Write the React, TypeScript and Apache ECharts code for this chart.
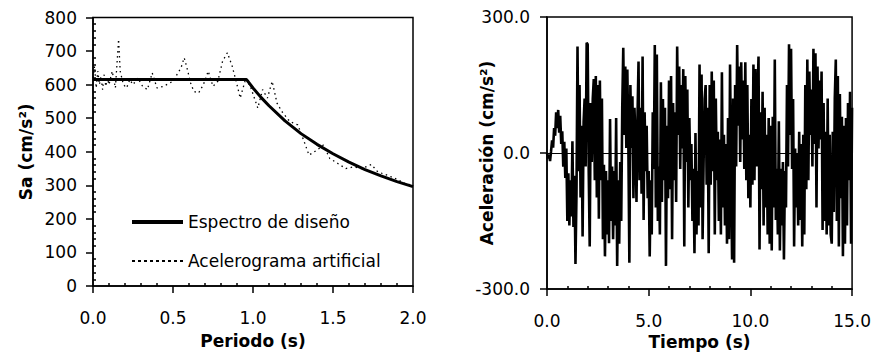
import React, { useEffect, useRef } from "react";
import * as echarts from "echarts";

const FONT = "DejaVu Sans";

// Design spectrum (solid)
const designPeriods = [0, 0.96, 1.0, 1.05, 1.1, 1.2, 1.3, 1.4, 1.5, 1.6, 1.7, 1.8, 1.9, 2.0];
const designSa = [615, 615, 590, 562, 537, 492, 454, 422, 394, 369, 347, 328, 311, 296];

// Spectrum of the artificial accelerogram (dotted)
const artPeriods = [
  0.0, 0.01, 0.02, 0.03, 0.04, 0.05, 0.06, 0.07, 0.08, 0.09, 0.1, 0.12, 0.14, 0.16, 0.17, 0.19,
  0.21, 0.23, 0.25, 0.28, 0.31, 0.34, 0.37, 0.4, 0.44, 0.5, 0.55, 0.57, 0.59, 0.61, 0.63, 0.66,
  0.69, 0.72, 0.75, 0.78, 0.81, 0.84, 0.87, 0.9, 0.92, 0.95, 0.98, 1.03, 1.06, 1.09, 1.12, 1.15,
  1.18, 1.23, 1.28, 1.32, 1.35, 1.4, 1.44, 1.48, 1.53, 1.58, 1.63, 1.68, 1.74, 1.78, 1.84, 1.9,
  1.95, 2.0,
];
const artSa = [
  620, 655, 590, 640, 600, 625, 585, 630, 595, 620, 600, 640, 590, 735, 640, 600,
  590, 615, 600, 620, 595, 585, 635, 590, 595, 610, 650, 680, 645, 605, 580, 575,
  600, 640, 595, 610, 670, 695, 655, 600, 560, 610, 600, 530, 585, 560, 610, 545,
  520, 490, 480, 430, 390, 405, 420, 380, 365, 350, 355, 350, 362, 340, 330, 318,
  305, 300,
];

// Artificial accelerogram, one value every accelDt seconds from t = 0
const accelDt = 0.05;
const accelValues = [
  // 0 - 1 s
  0, -12, -4, -18, 4, 28, 12, 55, 38, 90, 55, 95, 45, 82, 20, 48, -30, 25, -55, 10,
  // 1 - 2 s
  -150, -45, -160, -60, -140, 26, -163, -50, -245, -90, 235, -40, 150, -98, 60, -184, 69, 120, -30, 243,
  // 2 - 3 s
  240, -35, -206, 110, -20, 120, 163, -60, 170, -98, 150, -145, 160, -60, 120, -190, -26, -228, -40, -180,
  // 3 - 4 s
  -60, -199, 75, -150, -30, -190, -40, -160, 77, -249, -60, -200, -20, -150, 100, 232, 40, 191, 11, 184,
  // 4 - 5 s
  20, -242, 150, 11, 125, -100, 100, 30, -108, 80, 202, -60, 100, -90, 213, -148, 90, -40, 60, -100,
  // 5 - 6 s
  -40, -228, -60, -180, 90, -35, 238, -120, 217, -150, -30, -180, 156, -108, 119, -60, 100, -249, 60, -100,
  // 6 - 7 s
  160, -80, 170, -190, 110, -60, 90, -108, 235, 40, 191, -35, 150, 10, 185, -206, 170, -20, 140, -120,
  // 7 - 8 s
  77, -60, 20, -150, -35, -221, 44, -180, -40, -160, 195, -120, 173, -190, -20, 120, 150, -70, 100, -221,
  // 8 - 9 s
  150, -70, 180, -40, 160, -180, 120, -60, 47, -150, 30, -180, 178, -120, 40, -160, 20, -200, 77, -190,
  // 9 - 10 s
  195, -35, -235, 120, -242, 150, -30, 238, 60, 191, -20, 200, 30, 160, -35, 200, -60, 150, -100, 40,
  // 10 - 11 s
  -120, 119, -70, 195, -60, 185, -30, 119, 213, -213, 90, -80, 135, -160, 100, -120, 40, -180, 77, -200,
  // 11 - 12 s
  60, -215, 80, -120, 206, -148, -35, -180, 70, -215, -35, -160, -20, -235, -40, -120, 150, -30, 240, 40,
  // 12 - 13 s
  230, -35, 119, -206, 10, -120, -2, -160, 47, -148, 20, -206, 40, -180, 150, -80, 206, -60, 180, 40,
  // 13 - 14 s
  140, -30, 230, 20, 220, -120, 191, 10, 160, 30, 180, -170, 110, -150, 47, -180, 120, -160, 40, -180,
  // 14 - 15 s
  -200, 47, -130, 120, 206, -150, 170, -206, 130, -100, 80, -228, 60, -200, 77, -160, 110, -60, 135, -200,
  100,
];

const leftXTicks = { min: 0, max: 2, interval: 0.5 };
const leftYTicks = { min: 0, max: 800, interval: 100 };
const rightXTicks = { min: 0, max: 15, interval: 5 };
const rightYTicks = { min: -300, max: 300, interval: 300 };

const SOLID_ICON = "path://M0,0H51V4H0Z";
const DOTTED_ICON =
  "path://M0,0h3v2h-3z M6,0h3v2h-3z M12,0h3v2h-3z M18,0h3v2h-3z M24,0h3v2h-3z M30,0h3v2h-3z M36,0h3v2h-3z M42,0h3v2h-3z M48,0h3v2h-3z";

export default function App() {
  const ref = useRef<HTMLDivElement>(null);

  useEffect(() => {
    if (!ref.current) return;
    const chart = echarts.init(ref.current, undefined, { renderer: "svg" });

    const black = "#000";
    const axisLine = { show: true, onZero: false, lineStyle: { color: black, width: 1.5 } };
    const axisTick = { show: true, length: 7, lineStyle: { color: black, width: 1.5 } };
    const minorTick = { show: true, splitNumber: 5, length: -3, lineStyle: { color: black, width: 1.5 } };
    const label = (digits: number, margin: number) => ({
      margin,
      color: black,
      fontFamily: FONT,
      fontSize: 17,
      formatter: (v: number) => v.toFixed(digits),
    });
    const nameStyle = { color: black, fontFamily: FONT, fontSize: 17, fontWeight: "bold" as const };
    const legendText = { color: black, fontFamily: FONT, fontSize: 17, lineHeight: 20 };

    const designData = designPeriods.map((t, i) => [t, designSa[i]]);
    const artData = artPeriods.map((t, i) => [t, artSa[i]]);
    const accelData = accelValues.map((v, i) => [i * accelDt, v]);

    chart.setOption({
      animation: false,
      backgroundColor: "#fff",
      textStyle: { fontFamily: FONT },
      grid: [
        { left: 93, top: 17.5, width: 320, height: 268.5, show: true, borderColor: black, borderWidth: 1.5 },
        { left: 547, top: 17, width: 309, height: 276, show: true, borderColor: black, borderWidth: 1.5 },
      ],
      legend: [
        {
          left: 127,
          top: 207,
          itemWidth: 51,
          itemHeight: 4,
          textStyle: legendText,
          data: [{ name: "Espectro de diseño", icon: SOLID_ICON }],
        },
        {
          left: 127,
          top: 246,
          itemWidth: 51,
          itemHeight: 2,
          textStyle: legendText,
          data: [{ name: "Acelerograma artificial", icon: DOTTED_ICON }],
        },
      ],
      xAxis: [
        {
          type: "value",
          gridIndex: 0,
          ...leftXTicks,
          axisLine,
          axisTick,
          minorTick,
          splitLine: { show: false },
          axisLabel: label(1, 23),
          name: "Periodo (s)",
          nameLocation: "middle",
          nameGap: 46,
          nameMoveOverlap: false,
          nameTextStyle: nameStyle,
        },
        {
          type: "value",
          gridIndex: 1,
          ...rightXTicks,
          axisLine,
          axisTick,
          minorTick,
          splitLine: { show: false },
          axisLabel: label(1, 23),
          name: "Tiempo (s)",
          nameLocation: "middle",
          nameGap: 44,
          nameMoveOverlap: false,
          nameTextStyle: nameStyle,
        },
      ],
      yAxis: [
        {
          type: "value",
          gridIndex: 0,
          ...leftYTicks,
          axisLine,
          axisTick,
          minorTick,
          splitLine: { show: false },
          axisLabel: label(0, 16),
          name: "Sa (cm/s²)",
          nameLocation: "middle",
          nameGap: 59,
          nameMoveOverlap: false,
          nameTextStyle: nameStyle,
        },
        {
          type: "value",
          gridIndex: 1,
          ...rightYTicks,
          axisLine,
          axisTick,
          splitLine: { show: false },
          axisLabel: label(1, 17),
          name: "Aceleración (cm/s²)",
          nameLocation: "middle",
          nameGap: 52,
          nameMoveOverlap: false,
          nameTextStyle: nameStyle,
        },
      ],
      series: [
        {
          name: "Espectro de diseño",
          type: "line",
          xAxisIndex: 0,
          yAxisIndex: 0,
          data: designData,
          symbol: "none",
          color: black,
          lineStyle: { color: black, width: 3 },
          z: 3,
        },
        {
          name: "Acelerograma artificial",
          type: "line",
          xAxisIndex: 0,
          yAxisIndex: 0,
          data: artData,
          symbol: "none",
          color: black,
          lineStyle: { color: black, width: 1.3, type: [1.5, 3.5] },
          z: 2,
        },
        {
          name: "Acelerograma",
          type: "line",
          xAxisIndex: 1,
          yAxisIndex: 1,
          data: accelData,
          symbol: "none",
          color: black,
          lineStyle: { color: black, width: 2.6 },
          markLine: {
            silent: true,
            symbol: "none",
            label: { show: false },
            lineStyle: { color: black, width: 1.2, type: "solid" },
            data: [{ yAxis: 0 }],
          },
        },
      ],
    });

    return () => chart.dispose();
  }, []);

  return (
    <div
      ref={ref}
      style={{ position: "absolute", left: 0, top: 0, width: 874, height: 355, background: "#fff" }}
    />
  );
}
